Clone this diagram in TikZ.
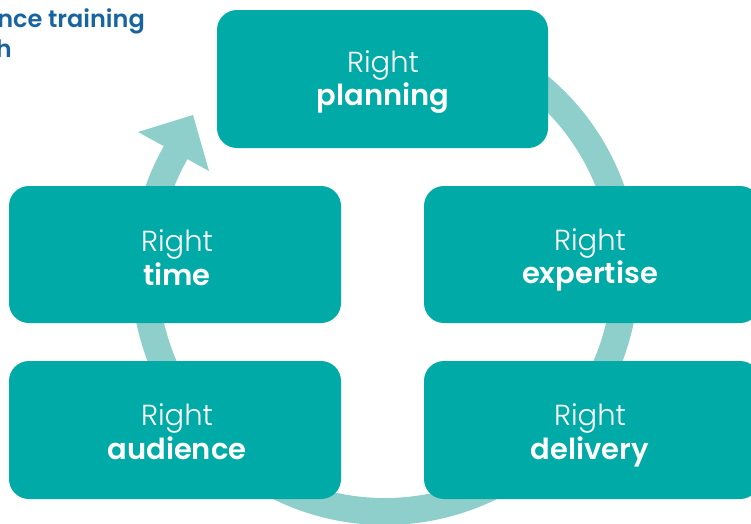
\documentclass[tikz,border=0pt]{standalone}
\usepackage{fontspec}
\setmainfont{Poppins}[UprightFont=* Light, BoldFont=* SemiBold]
\newfontfamily\titlefont{Poppins}[UprightFont=* SemiBold]
\usetikzlibrary{calc}
\definecolor{boxteal}{RGB}{0,170,166}
\definecolor{ringteal}{RGB}{142,207,203}
\definecolor{titleblue}{RGB}{24,100,160}
\tikzset{
  stepbox/.style={fill=boxteal, rounded corners=20pt},
  lighttxt/.style={text=white, font=\fontsize{29}{29}\selectfont, anchor=base, inner sep=0pt},
  boldtxt/.style={text=white, font=\fontsize{29}{29}\selectfont\bfseries, anchor=base, inner sep=0pt},
  titletxt/.style={text=titleblue, font=\titlefont\fontsize{24}{24}\selectfont, anchor=base east, inner sep=0pt},
}
\begin{document}
\begin{tikzpicture}[x=1pt,y=-1pt]
\useasboundingbox (0,0) rectangle (751,523);
\clip (0,0) rectangle (751,523);
% cycle ring
\coordinate (c) at (385,271);
\draw[ringteal, line width=27pt] ($(c)+(-149:240.5)$) arc[start angle=-149, end angle=-460, radius=240.5];
\coordinate (hl) at (138,132);
\coordinate (ht) at (193,115);
\coordinate (hr) at (209,171);
\fill[ringteal] (hl) -- (ht) -- (hr) -- cycle;
% boxes
\fill[stepbox] (217,10) rectangle (548,148);
\fill[stepbox] (9,186) rectangle (341,323);
\fill[stepbox] (9,361) rectangle (341,499);
\fill[stepbox] (424,186) rectangle (760,323);
\fill[stepbox] (424,361) rectangle (760,499);
% labels
\node[lighttxt] (p1) at (383,72) {Right};
\node[boldtxt]  (p2) at (383,105) {planning};
\node[lighttxt] (t1) at (177,251) {Right};
\node[boldtxt]  (t2) at (177,285) {time};
\node[lighttxt] (e1) at (590,250) {Right};
\node[boldtxt]  (e2) at (590,283) {expertise};
\node[lighttxt] (a1) at (177,425) {Right};
\node[boldtxt]  (a2) at (177,459) {audience};
\node[lighttxt] (d1) at (590,425) {Right};
\node[boldtxt]  (d2) at (590,459) {delivery};
% cropped title
\node[titletxt] (ti1) at (145,27) {nce training};
\node[titletxt] (ti2) at (12,57) {h};
\end{tikzpicture}
\end{document}
